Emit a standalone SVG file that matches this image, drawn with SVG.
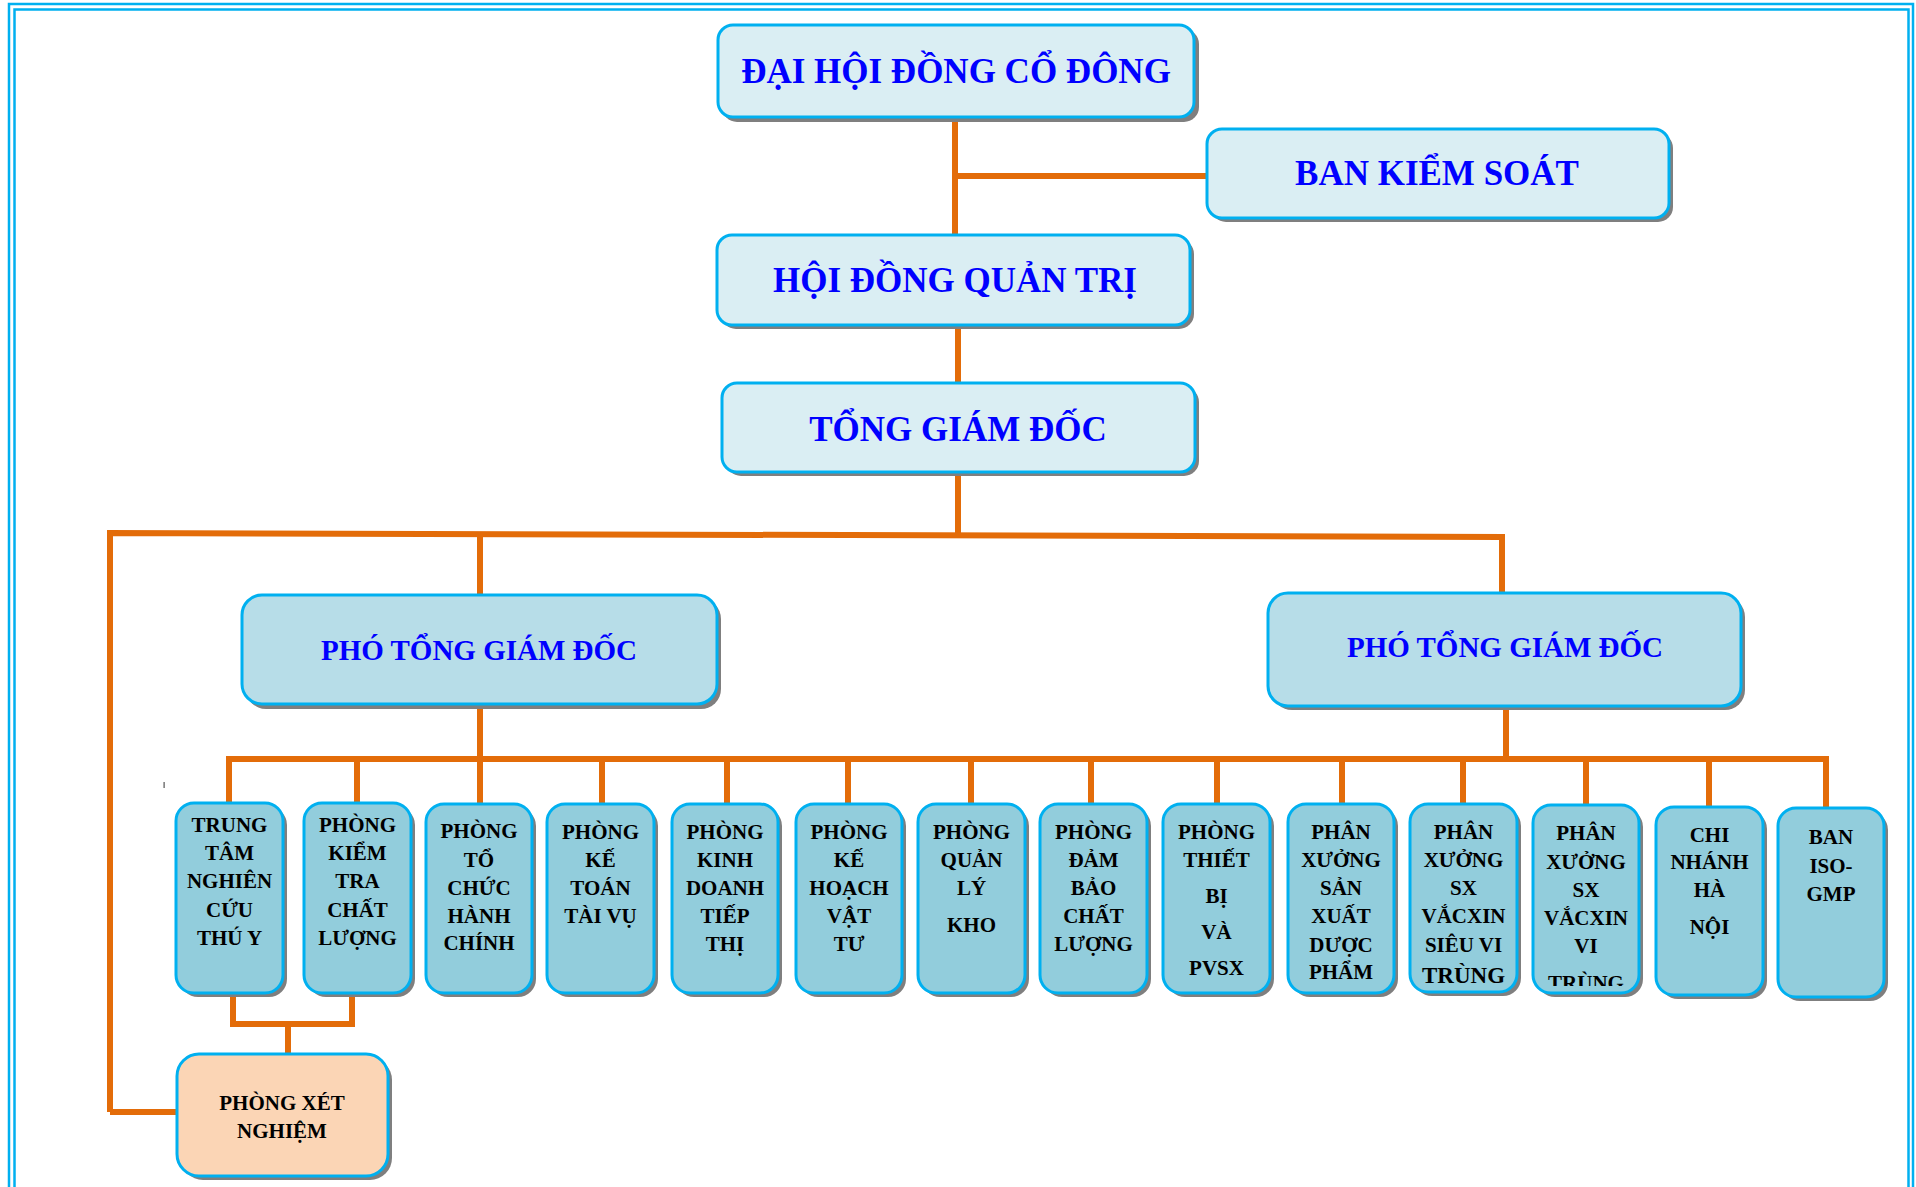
<svg xmlns="http://www.w3.org/2000/svg" width="1916" height="1187" viewBox="0 0 1916 1187">
<style>
.frame{fill:none;stroke:#00b0f0;stroke-width:2.5}
.box{stroke:#00b0f0;stroke-width:3}
.sh{fill:#7f7f7f}
.f1{fill:#daeef3}
.f2{fill:#b7dde8}
.f3{fill:#92cddc}
.f4{fill:#fbd5b5}
.conn{stroke:#e36c09;stroke-width:6;fill:none}
.big{font-family:"Liberation Serif","Times New Roman",serif;font-weight:bold;font-size:35px;fill:#0000ff;text-anchor:middle}
.mid{font-family:"Liberation Serif","Times New Roman",serif;font-weight:bold;font-size:29px;fill:#0000ff;text-anchor:middle}
.sm{font-family:"Liberation Serif","Times New Roman",serif;font-weight:bold;font-size:21px;fill:#000;text-anchor:middle}
</style>
<defs>
<clipPath id="clip12"><rect x="1533" y="805" width="106" height="181"/></clipPath>
</defs>
<rect width="1916" height="1187" fill="#ffffff"/>
<g id="frame">
<rect class="frame" x="9" y="4" width="1904" height="1200"/>
<rect class="frame" x="14.5" y="9.5" width="1894" height="1200"/>
<rect x="163.5" y="782" width="1.2" height="6" fill="#555"/>
</g>
<g id="connectors">
<path class="conn" d="M955,117 V235 M955,176 H1207"/>
<path class="conn" d="M958,325 V383"/>
<path class="conn" d="M958,472 V535"/>
<path class="conn" d="M110,1112 V533 L1502,537 V593"/>
<path class="conn" d="M480,533 V595"/>
<path class="conn" d="M110,1112 H177"/>
<path class="conn" d="M480,704 V759 M1506,706 V759"/>
<path class="conn" d="M229,803 V759 H1826 V808"/>
<path class="conn" d="M357,759 V803 M480,759 V804 M602,759 V804 M727,759 V804 M848,759 V804 M971,759 V804 M1091,759 V804 M1217,759 V804 M1342,759 V804 M1463,759 V804 M1586,759 V805 M1709,759 V807"/>
<path class="conn" d="M233,993 V1024 H352 V993 M288,1024 V1054"/>
</g>
<g id="n-dhdcd">
<rect class="sh" x="722" y="29" width="477" height="93" rx="15"/>
<rect class="box f1" x="718" y="25" width="476" height="92" rx="15"/>
<text class="big" x="956" y="83">ĐẠI HỘI ĐỒNG CỔ ĐÔNG</text>
</g>
<g id="n-bks">
<rect class="sh" x="1211" y="133" width="462" height="89" rx="15"/>
<rect class="box f1" x="1207" y="129" width="462" height="89" rx="15"/>
<text class="big" x="1437" y="185">BAN KIỂM SOÁT</text>
</g>
<g id="n-hdqt">
<rect class="sh" x="721" y="239" width="473" height="90" rx="15"/>
<rect class="box f1" x="717" y="235" width="473" height="90" rx="15"/>
<text class="big" x="955" y="292">HỘI ĐỒNG QUẢN TRỊ</text>
</g>
<g id="n-tgd">
<rect class="sh" x="726" y="387" width="473" height="89" rx="15"/>
<rect class="box f1" x="722" y="383" width="473" height="89" rx="15"/>
<text class="big" x="958" y="441">TỔNG GIÁM ĐỐC</text>
</g>
<g id="n-ptgd1">
<rect class="sh" x="246" y="599" width="475" height="110" rx="20"/>
<rect class="box f2" x="242" y="595" width="475" height="109" rx="20"/>
<text class="mid" x="479" y="660">PHÓ TỔNG GIÁM ĐỐC</text>
</g>
<g id="n-ptgd2">
<rect class="sh" x="1272" y="597" width="473" height="113" rx="20"/>
<rect class="box f2" x="1268" y="593" width="473" height="113" rx="20"/>
<text class="mid" x="1505" y="657">PHÓ TỔNG GIÁM ĐỐC</text>
</g>
<g id="n-b1">
<rect class="sh" x="180" y="807" width="107" height="190" rx="18"/>
<rect class="box f3" x="176" y="803" width="107" height="190" rx="18"/>
<text class="sm" x="229.5" y="832">TRUNG</text><text class="sm" x="229.5" y="860">TÂM</text><text class="sm" x="229.5" y="888">NGHIÊN</text><text class="sm" x="229.5" y="917">CỨU</text><text class="sm" x="229.5" y="945">THÚ Y</text>
</g>
<g id="n-b2">
<rect class="sh" x="308" y="807" width="107" height="190" rx="18"/>
<rect class="box f3" x="304" y="803" width="107" height="190" rx="18"/>
<text class="sm" x="357.5" y="832">PHÒNG</text><text class="sm" x="357.5" y="860">KIỂM</text><text class="sm" x="357.5" y="888">TRA</text><text class="sm" x="357.5" y="917">CHẤT</text><text class="sm" x="357.5" y="945">LƯỢNG</text>
</g>
<g id="n-b3">
<rect class="sh" x="430" y="808" width="106" height="189" rx="18"/>
<rect class="box f3" x="426" y="804" width="106" height="189" rx="18"/>
<text class="sm" x="479" y="838">PHÒNG</text><text class="sm" x="479" y="867">TỔ</text><text class="sm" x="479" y="895">CHỨC</text><text class="sm" x="479" y="923">HÀNH</text><text class="sm" x="479" y="950">CHÍNH</text>
</g>
<g id="n-b4">
<rect class="sh" x="551" y="808" width="107" height="189" rx="18"/>
<rect class="box f3" x="547" y="804" width="107" height="189" rx="18"/>
<text class="sm" x="600.5" y="839">PHÒNG</text><text class="sm" x="600.5" y="867">KẾ</text><text class="sm" x="600.5" y="895">TOÁN</text><text class="sm" x="600.5" y="923">TÀI VỤ</text>
</g>
<g id="n-b5">
<rect class="sh" x="676" y="808" width="106" height="189" rx="18"/>
<rect class="box f3" x="672" y="804" width="106" height="189" rx="18"/>
<text class="sm" x="725" y="839">PHÒNG</text><text class="sm" x="725" y="867">KINH</text><text class="sm" x="725" y="895">DOANH</text><text class="sm" x="725" y="923">TIẾP</text><text class="sm" x="725" y="951">THỊ</text>
</g>
<g id="n-b6">
<rect class="sh" x="800" y="808" width="106" height="189" rx="18"/>
<rect class="box f3" x="796" y="804" width="106" height="189" rx="18"/>
<text class="sm" x="849" y="839">PHÒNG</text><text class="sm" x="849" y="867">KẾ</text><text class="sm" x="849" y="895">HOẠCH</text><text class="sm" x="849" y="923">VẬT</text><text class="sm" x="849" y="951">TƯ</text>
</g>
<g id="n-b7">
<rect class="sh" x="922" y="808" width="107" height="189" rx="18"/>
<rect class="box f3" x="918" y="804" width="107" height="189" rx="18"/>
<text class="sm" x="971.5" y="839">PHÒNG</text><text class="sm" x="971.5" y="867">QUẢN</text><text class="sm" x="971.5" y="895">LÝ</text><text class="sm" x="971.5" y="932">KHO</text>
</g>
<g id="n-b8">
<rect class="sh" x="1044" y="808" width="107" height="189" rx="18"/>
<rect class="box f3" x="1040" y="804" width="107" height="189" rx="18"/>
<text class="sm" x="1093.5" y="839">PHÒNG</text><text class="sm" x="1093.5" y="867">ĐẢM</text><text class="sm" x="1093.5" y="895">BẢO</text><text class="sm" x="1093.5" y="923">CHẤT</text><text class="sm" x="1093.5" y="951">LƯỢNG</text>
</g>
<g id="n-b9">
<rect class="sh" x="1167" y="808" width="107" height="189" rx="18"/>
<rect class="box f3" x="1163" y="804" width="107" height="189" rx="18"/>
<text class="sm" x="1216.5" y="839">PHÒNG</text><text class="sm" x="1216.5" y="867">THIẾT</text><text class="sm" x="1216.5" y="903">BỊ</text><text class="sm" x="1216.5" y="939">VÀ</text><text class="sm" x="1216.5" y="975">PVSX</text>
</g>
<g id="n-b10">
<rect class="sh" x="1292" y="808" width="106" height="189" rx="18"/>
<rect class="box f3" x="1288" y="804" width="106" height="189" rx="18"/>
<text class="sm" x="1341" y="839">PHÂN</text><text class="sm" x="1341" y="867">XƯỞNG</text><text class="sm" x="1341" y="895">SẢN</text><text class="sm" x="1341" y="923">XUẤT</text><text class="sm" x="1341" y="952">DƯỢC</text><text class="sm" x="1341" y="979">PHẨM</text>
</g>
<g id="n-b11">
<rect class="sh" x="1414" y="808" width="107" height="188" rx="18"/>
<rect class="box f3" x="1410" y="804" width="107" height="188" rx="18"/>
<text class="sm" x="1463.5" y="839">PHÂN</text><text class="sm" x="1463.5" y="867">XƯỞNG</text><text class="sm" x="1463.5" y="895">SX</text><text class="sm" x="1463.5" y="923">VẮCXIN</text><text class="sm" x="1463.5" y="952">SIÊU VI</text><text class="sm" x="1463.5" y="983" style="font-size:23px">TRÙNG</text>
</g>
<g id="n-b12">
<rect class="sh" x="1537" y="809" width="106" height="188" rx="18"/>
<rect class="box f3" x="1533" y="805" width="106" height="188" rx="18"/>
<g clip-path="url(#clip12)">
<text class="sm" x="1586" y="840">PHÂN</text><text class="sm" x="1586" y="869">XƯỞNG</text><text class="sm" x="1586" y="897">SX</text><text class="sm" x="1586" y="925">VẮCXIN</text><text class="sm" x="1586" y="953">VI</text><text class="sm" x="1586" y="990">TRÙNG</text>
</g>
</g>
<g id="n-b13">
<rect class="sh" x="1660" y="811" width="107" height="188" rx="18"/>
<rect class="box f3" x="1656" y="807" width="107" height="188" rx="18"/>
<text class="sm" x="1709.5" y="842">CHI</text><text class="sm" x="1709.5" y="869">NHÁNH</text><text class="sm" x="1709.5" y="897">HÀ</text><text class="sm" x="1709.5" y="934">NỘI</text>
</g>
<g id="n-b14">
<rect class="sh" x="1782" y="812" width="106" height="189" rx="18"/>
<rect class="box f3" x="1778" y="808" width="106" height="189" rx="18"/>
<text class="sm" x="1831" y="844">BAN</text><text class="sm" x="1831" y="873">ISO-</text><text class="sm" x="1831" y="901">GMP</text>
</g>
<g id="n-pxn">
<rect class="sh" x="181" y="1058" width="211" height="122" rx="22"/>
<rect class="box f4" x="177" y="1054" width="211" height="122" rx="22"/>
<text class="sm" x="282" y="1110">PHÒNG XÉT</text><text class="sm" x="282" y="1138">NGHIỆM</text>
</g>
</svg>
